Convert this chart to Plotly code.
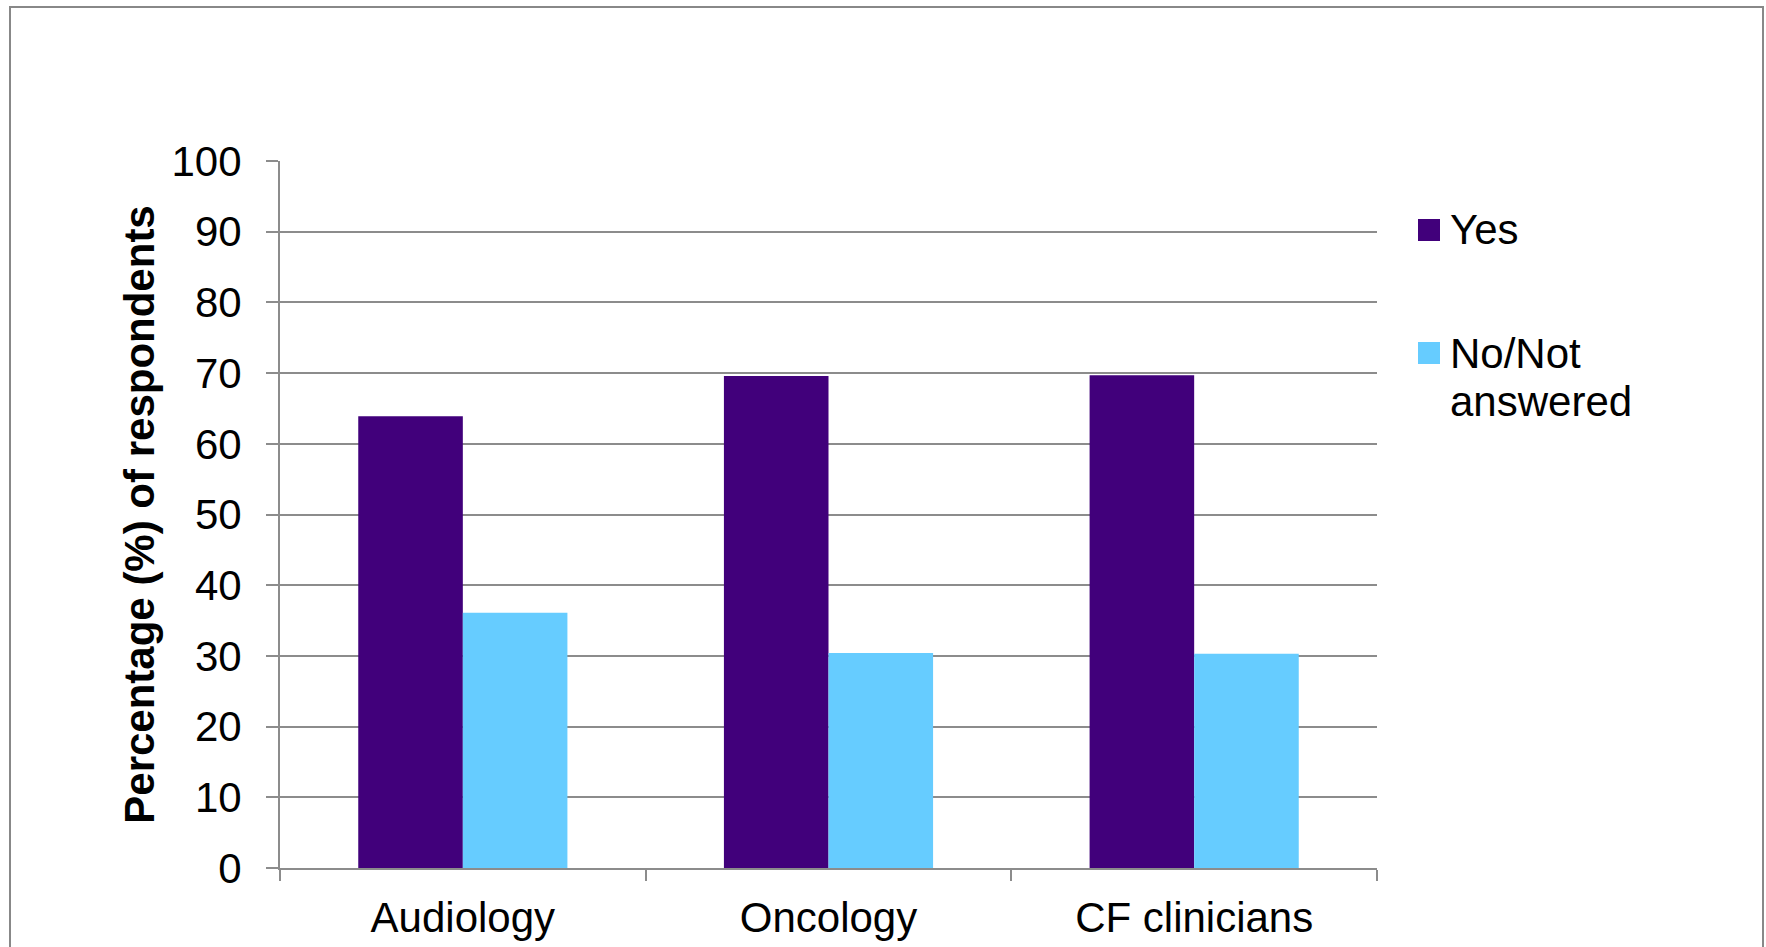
import plotly.graph_objects as go

categories = ["Audiology", "Oncology", "CF clinicians"]
yes_values = [63.9, 69.6, 69.7]
no_values = [36.1, 30.4, 30.3]
series_names = ["Yes", "No/Not<br>answered"]
y_ticks = [0, 10, 20, 30, 40, 50, 60, 70, 80, 90, 100]

W, H = 1766, 947
L, R, T, B = 280, 389, 161, 79
PW, PH = W - L - R, H - T - B

def px(x):
    return (x - L) / PW

def py(y):
    return (H - B - y) / PH

YES_C = "#41007B"
NO_C = "#66CCFF"
GRID = "#8C8C8C"
FONT = "Liberation Sans, Arial, sans-serif"
FS = 42

fig = go.Figure()
fig.add_trace(go.Bar(x=categories, y=yes_values, name="Yes", marker=dict(color=YES_C, line=dict(width=0)), showlegend=False))
fig.add_trace(go.Bar(x=categories, y=no_values, name="No/Not answered", marker=dict(color=NO_C, line=dict(width=0)), showlegend=False))

fig.update_layout(
    width=W, height=H,
    margin=dict(l=L, r=R, t=T, b=B, autoexpand=False),
    paper_bgcolor="white", plot_bgcolor="white",
    barmode="group", bargap=0.428, bargroupgap=0,
    font=dict(family=FONT, size=FS, color="black"),
    xaxis=dict(
        showline=True, linecolor=GRID, linewidth=2, automargin=False,
        ticks="outside", tickson="boundaries", ticklen=11, tickcolor=GRID, tickwidth=2,
        showgrid=False, tickfont=dict(size=FS), ticklabelstandoff=12,
    ),
    yaxis=dict(
        range=[0, 100], tickvals=y_ticks, ticktext=[str(v) for v in y_ticks],
        showline=True, linecolor=GRID, linewidth=2, automargin=False,
        ticks="outside", ticklen=12, tickcolor=GRID, tickwidth=2,
        showgrid=True, gridcolor=GRID, gridwidth=2, zeroline=False,
        tickfont=dict(size=FS), ticklabelstandoff=16,
        title=dict(text="<b>Percentage (%) of respondents</b>", font=dict(size=FS), standoff=4),
    ),
)

# outer border
fig.add_shape(type="rect", xref="paper", yref="paper",
              x0=px(10), x1=px(1763), y0=py(960), y1=py(7),
              line=dict(color="#888888", width=2), fillcolor="rgba(0,0,0,0)", layer="below")

# legend (manual, large square swatches)
legend_items = [(series_names[0], YES_C, 230), (series_names[1], NO_C, 353)]
for name, col, yc in legend_items:
    fig.add_shape(type="rect", xref="paper", yref="paper",
                  x0=px(1418), x1=px(1440), y0=py(yc + 11), y1=py(yc - 11),
                  line=dict(width=0), fillcolor=col)
    for i, line in enumerate(name.split("<br>")):
        fig.add_annotation(xref="paper", yref="paper", x=px(1448), y=py(yc - 25.5 + i * 48.5),
                           text=line, showarrow=False, xanchor="left", yanchor="top",
                           align="left", font=dict(size=FS, family=FONT, color="black"))

fig.write_html("out.html")
